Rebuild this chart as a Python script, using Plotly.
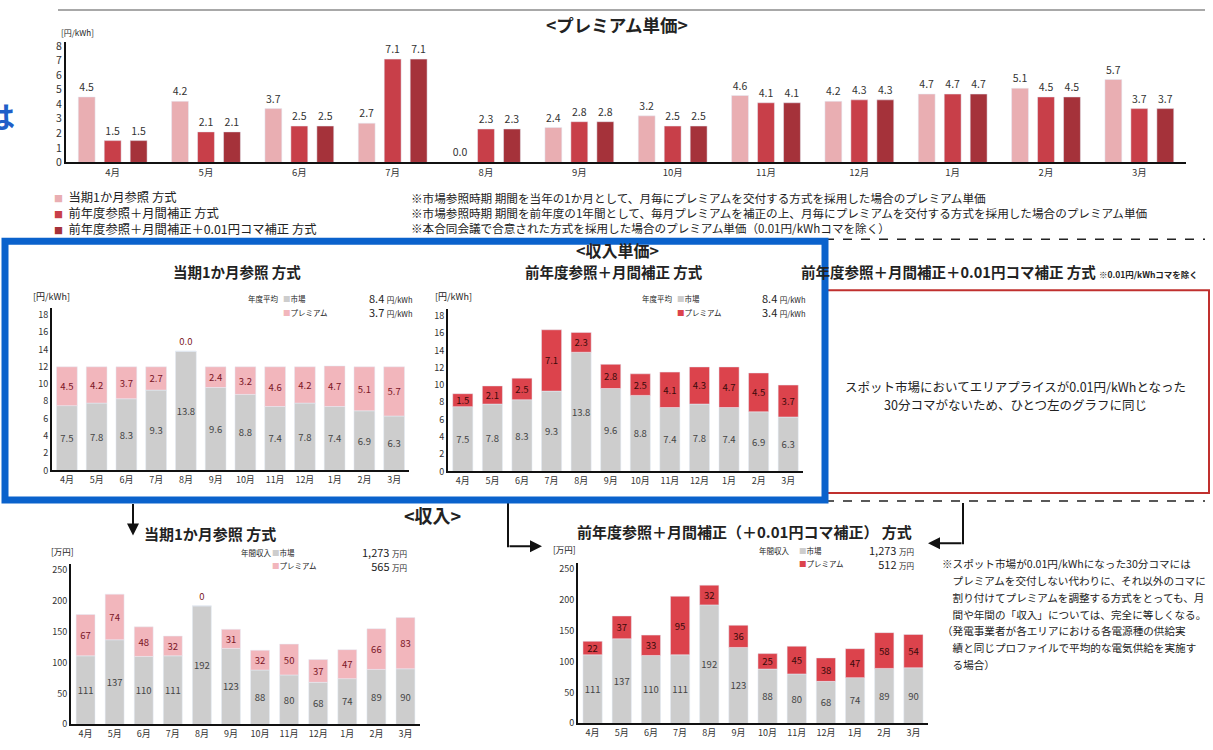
import plotly.graph_objects as go

W, H = 1213, 750
def X(px): return px / W
def Y(py): return 1 - py / H

months = ["4月", "5月", "6月", "7月", "8月", "9月", "10月", "11月", "12月", "1月", "2月", "3月"]

# Premium unit price [円/kWh]
prem_current = [4.5, 4.2, 3.7, 2.7, 0.0, 2.4, 3.2, 4.6, 4.2, 4.7, 5.1, 5.7]
prem_prev = [1.5, 2.1, 2.5, 7.1, 2.3, 2.8, 2.5, 4.1, 4.3, 4.7, 4.5, 3.7]
prem_prev_koma = [1.5, 2.1, 2.5, 7.1, 2.3, 2.8, 2.5, 4.1, 4.3, 4.7, 4.5, 3.7]

# Revenue unit price [円/kWh]
market_unit = [7.5, 7.8, 8.3, 9.3, 13.8, 9.6, 8.8, 7.4, 7.8, 7.4, 6.9, 6.3]

# Revenue [万円]
market_rev = [111, 137, 110, 111, 192, 123, 88, 80, 68, 74, 89, 90]
prem_rev_current = [67, 74, 48, 32, 0, 31, 32, 50, 37, 47, 66, 83]
prem_rev_prev = [22, 37, 33, 95, 32, 36, 25, 45, 38, 47, 58, 54]

legend_names = ["当期1か月参照 方式", "前年度参照＋月間補正 方式", "前年度参照＋月間補正＋0.01円コマ補正 方式"]

C_PINK_TOP = "#E9AEB2"
C_RED_TOP = "#C83F49"
C_DARK_TOP = "#A5323A"
C_GRAY = "#CDCDCD"
C_PINK = "#F2B6BC"
C_RED = "#DC434C"
TXT = "#222222"
FONT = "Noto Sans CJK JP, Noto Sans, sans-serif"

fig = go.Figure()

# ---- Top chart: premium unit price (grouped) ----
for vals, col, name in zip([prem_current, prem_prev, prem_prev_koma],
                           [C_PINK_TOP, C_RED_TOP, C_DARK_TOP], legend_names):
    fig.add_trace(go.Bar(x=months, y=vals, name=name, marker_color=col,
                         text=vals, texttemplate="%{y:.1f}", textposition="outside",
                         textfont=dict(size=10.5, color="#333"), cliponaxis=False,
                         showlegend=False, xaxis="x", yaxis="y"))

# ---- stacked charts via base + offsetgroup ----
def stacked(xa, ya, market, prem, pcol, ptxt, fmt, width, grp):
    fig.add_trace(go.Bar(x=months, y=market, marker_color=C_GRAY, offsetgroup=grp,
                         width=width, text=market, texttemplate=fmt,
                         textposition="inside", insidetextanchor="middle", textangle=0,
                         constraintext="none", textfont=dict(size=9.5, color="#444"),
                         showlegend=False, xaxis=xa, yaxis=ya))
    pos = ["outside" if v == 0 else "inside" for v in prem]
    fig.add_trace(go.Bar(x=months, y=prem, base=market, marker_color=pcol, offsetgroup=grp,
                         width=width, text=prem, texttemplate=fmt,
                         textposition=pos, insidetextanchor="middle", textangle=0,
                         constraintext="none", cliponaxis=False,
                         textfont=dict(size=9.5, color=ptxt),
                         showlegend=False, xaxis=xa, yaxis=ya))

stacked("x2", "y2", market_unit, prem_current, C_PINK, "#7A1526", "%{y:.1f}", 0.70, "g2")
stacked("x3", "y3", market_unit, prem_prev, C_RED, "#3A0A0A", "%{y:.1f}", 0.68, "g3")
stacked("x4", "y4", market_rev, prem_rev_current, C_PINK, "#7A1526", "%{y:.0f}", 0.65, "g4")
stacked("x5", "y5", market_rev, prem_rev_prev, C_RED, "#3A0A0A", "%{y:.0f}", 0.66, "g5")

def xax(x0, x1, anchor, size=9):
    return dict(domain=[X(x0), X(x1)], anchor=anchor, showline=True, linecolor="#111",
                linewidth=2, ticks="", showgrid=False, zeroline=False,
                tickfont=dict(size=size, color="#333"), fixedrange=True)

def yax(b, t, anchor, rng, dtick, size=9):
    return dict(domain=[Y(b), Y(t)], anchor=anchor, range=rng, dtick=dtick, showline=True,
                linecolor="#111", linewidth=2, ticks="", showgrid=False, zeroline=False,
                tickfont=dict(size=size, color="#333"), fixedrange=True)

fig.update_layout(
    width=W, height=H, margin=dict(l=0, r=0, t=0, b=0),
    paper_bgcolor="white", plot_bgcolor="rgba(0,0,0,0)",
    font=dict(family=FONT, color=TXT),
    barmode="group", bargap=0.165, bargroupgap=0.35, showlegend=False,
    xaxis=xax(66, 1186, "y", 9.5),
    yaxis=yax(160, 38, "x", [0, 8.25], 1, 10.5),
    xaxis2=xax(52, 409, "y2"),
    yaxis2=yax(473, 308, "x2", [0, 18.8], 2),
    xaxis3=xax(448, 803, "y3"),
    yaxis3=yax(474, 309, "x3", [0, 18.8], 2),
    xaxis4=xax(71, 420, "y4"),
    yaxis4=yax(731, 568, "x4", [0, 260], 50),
    xaxis5=xax(578, 928, "y5"),
    yaxis5=yax(730, 567, "x5", [0, 260], 50),
)

ann = []
def T(text, x, y, size=11, anchor="left", color=TXT, bold=False, yanchor="middle", align=None):
    if bold:
        text = "<b>" + text + "</b>"
    d = dict(text=text, x=X(x), y=Y(y), xref="paper", yref="paper", showarrow=False,
             xanchor=anchor, yanchor=yanchor, borderpad=0,
             font=dict(size=size, color=color, family=FONT))
    if align:
        d["align"] = align
    ann.append(d)

def sq(c):
    return f"<span style='color:{c}'>■</span>"

def small(t):
    return f"<span style='font-size:7.5px'>{t}</span>"

# top section
T("&lt;プレミアム単価&gt;", 617, 20, 17.5, "center", bold=True)
T("[円/kWh]", 60, 28, 8)
T("は", 16, 112, 30, "right", color="#1F5FC8", bold=True)
leg_lines = [f"<span style='font-size:9px;color:{c}'>■</span>  {n}"
             for c, n in zip([C_PINK_TOP, C_RED_TOP, C_DARK_TOP], legend_names)]
T("<br>".join(leg_lines), 53, 211, 12.3, align="left")
notes = ["※市場参照時期 期間を当年の1か月として、月毎にプレミアムを交付する方式を採用した場合のプレミアム単価",
         "※市場参照時期 期間を前年度の1年間として、毎月プレミアムを補正の上、月毎にプレミアムを交付する方式を採用した場合のプレミアム単価",
         "※本合同会議で合意された方式を採用した場合のプレミアム単価（0.01円/kWhコマを除く）"]
T("<br>".join(notes), 410, 211, 11.6, align="left")

# middle section
T("&lt;収入単価&gt;", 617, 249, 16, "center", bold=True)
T("当期1か月参照 方式", 237, 271, 14.5, "center", bold=True)
T("前年度参照＋月間補正 方式", 614, 271, 14.5, "center", bold=True)
T("<b>前年度参照＋月間補正＋0.01円コマ補正 方式</b> <span style='font-size:8.5px'><b>※0.01円/kWhコマを除く</b></span>",
  800, 271, 14.5)
T("[円/kWh]", 32, 296, 9)
T("[円/kWh]", 434, 296, 9)

def mini_legend(xlab, xsq, xval, ytop, label, pcol, v1, v2, unit):
    T(label, xlab, ytop, 7.5)
    T(sq(C_GRAY) + "市場", xsq, ytop, 7.5)
    T(sq(pcol) + "プレミアム", xsq, ytop + 14, 7.5)
    T(f"{v1} {small(unit)}<br>{v2} {small(unit)}", xval, ytop + 7, 11, "right", align="right")

mini_legend(247, 282, 413, 298, "年度平均", C_PINK, "8.4", "3.7", "円/kWh")
mini_legend(641, 676, 806, 298, "年度平均", C_RED, "8.4", "3.4", "円/kWh")
T("スポット市場においてエリアプライスが0.01円/kWhとなった", 1015, 388, 12.5, "center")
T("30分コマがないため、ひとつ左のグラフに同じ", 1015, 406, 12.5, "center")

# bottom section
T("&lt;収入&gt;", 432, 518, 18, "center", bold=True)
T("当期1か月参照 方式", 143, 537, 15, bold=True)
T("前年度参照＋月間補正（＋0.01円コマ補正） 方式", 744, 535, 15, "center", bold=True)
T("[万円]", 50, 555, 8.5)
T("[万円]", 552, 553, 8.5)
mini_legend(240, 271, 408, 556, "年間収入", C_PINK, "1,273", "565", "万円")
mini_legend(758, 798, 915, 554, "年間収入", C_RED, "1,273", "512", "万円")
side = ["※スポット市場が0.01円/kWhになった30分コマには",
        "　プレミアムを交付しない代わりに、それ以外のコマに",
        "　割り付けてプレミアムを調整する方式をとっても、月",
        "　間や年間の「収入」については、完全に等しくなる。",
        "（発電事業者が各エリアにおける各電源種の供給実",
        "　績と同じプロファイルで平均的な電気供給を実施す",
        "　る場合）"]
for i, s in enumerate(side):
    T(s, 941, 568 + i * 17, 10.6)

# arrows
def arrow(x, y, ax, ay):
    ann.append(dict(x=X(x), y=Y(y), xref="paper", yref="paper", ax=ax, ay=ay,
                    axref="pixel", ayref="pixel", showarrow=True, arrowhead=2,
                    arrowsize=1.2, arrowwidth=2, arrowcolor="#111", text=""))
arrow(133, 539, 0, -33)
arrow(542, 550, -34, 0)
arrow(928, 547, 35, 0)

fig.update_layout(annotations=ann)

def line(x0, y0, x1, y1, color="#111", width=2, dash="solid"):
    return dict(type="line", xref="paper", yref="paper", x0=X(x0), y0=Y(y0), x1=X(x1), y1=Y(y1),
                line=dict(color=color, width=width, dash=dash))

shapes = [
    line(58, 5, 1205, 5, "#A8A8A8", 2),
    line(825, 238, 1205, 238, "#222", 1.5, "dash"),
    line(825, 504, 1205, 504, "#222", 1.5, "dash"),
    line(508, 506, 508, 551, "#111", 2),
    line(963, 506, 963, 548, "#111", 2),
    dict(type="rect", xref="paper", yref="paper", x0=X(824), x1=X(1209), y0=Y(496), y1=Y(290),
         line=dict(color="#C0302E", width=2)),
    dict(type="rect", xref="paper", yref="paper", x0=X(5), x1=X(825), y0=Y(503), y1=Y(240),
         line=dict(color="#0A62CC", width=7)),
]
fig.update_layout(shapes=shapes)

fig.write_html("out.html")
